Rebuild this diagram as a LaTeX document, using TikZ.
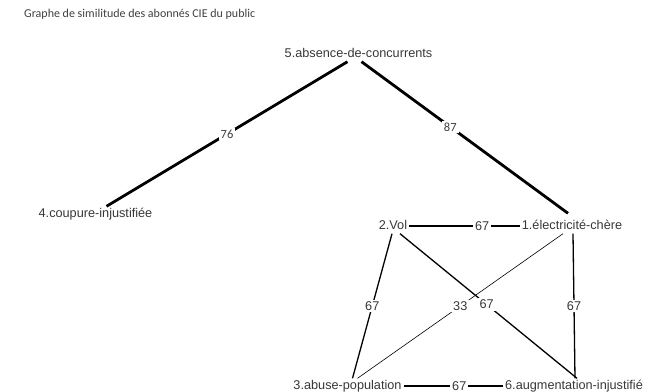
\documentclass[tikz,border=0pt]{standalone}
\usepackage{fontspec}
\setmainfont{Liberation Sans}
\newfontfamily\calib{Carlito}
\begin{document}
\begin{tikzpicture}[x=1pt,y=-1pt,
  lbl/.style={font=\fontsize{12.7}{14}\selectfont, text=black!78, inner xsep=2pt, inner ysep=0pt, minimum height=15pt, text height=9pt, text depth=2.5pt},
  wlbl/.style={fill=white, inner sep=1.8pt, font=\fontsize{12.7}{14}\selectfont, text=black!78},
  clbl/.style={fill=white, inner sep=2pt, font=\calib\fontsize{12.5}{14}\selectfont, text=black!75},
  heavy/.style={line width=2.8pt},
  mid/.style={line width=1.3pt},
  fine/.style={line width=0.6pt}]
\useasboundingbox (0,0) rectangle (653,391);
\fill[white] (0,0) rectangle (653,391);
\node[anchor=west, font=\calib\fontsize{12}{14}\selectfont, text=black!75, inner sep=0pt] (title) at (24,14) {Graphe de similitude des abonnés CIE du public};

\node[lbl] (n5) at (358.5,54) {5.absence-de-concurrents};
\node[lbl] (n4) at (95.5,214) {4.coupure-injustifiée};
\node[lbl] (n2) at (393,226) {2.Vol};
\node[lbl] (n1) at (572,226) {1.électricité-chère};
\node[lbl] (n3) at (347.5,386) {3.abuse-population};
\node[lbl] (n6) at (574,386) {6.augmentation-injustifié};

\draw[heavy] ([xshift=-11pt]n5.south) -- ([xshift=11pt]n4.north) node[clbl, pos=0.5] {76};
\draw[heavy] ([xshift=3pt]n5.south) -- ([xshift=-4pt,yshift=5pt]n1.north) node[clbl, pos=0.43] {87};

\draw[mid] (n2.east) -- (n1.west) node[wlbl, pos=0.66] {67};
\draw[mid] (n3.east) -- (n6.west) node[wlbl, pos=0.56] {67};
\draw[mid] ([xshift=-1pt]n2.south) -- ([xshift=5pt]n3.north) node[wlbl, pos=0.5] {67};
\draw[mid] ([xshift=1pt]n1.south) -- ([xshift=1pt]n6.north) node[wlbl, pos=0.5] {67};
\draw[fine] ([xshift=-9pt]n1.south) -- ([xshift=10pt]n3.north) node[wlbl, pos=0.5] {33};
\draw[mid] ([xshift=7pt]n2.south) -- ([xshift=3pt]n6.north) node[wlbl, pos=0.49] {67};
\end{tikzpicture}
\end{document}
